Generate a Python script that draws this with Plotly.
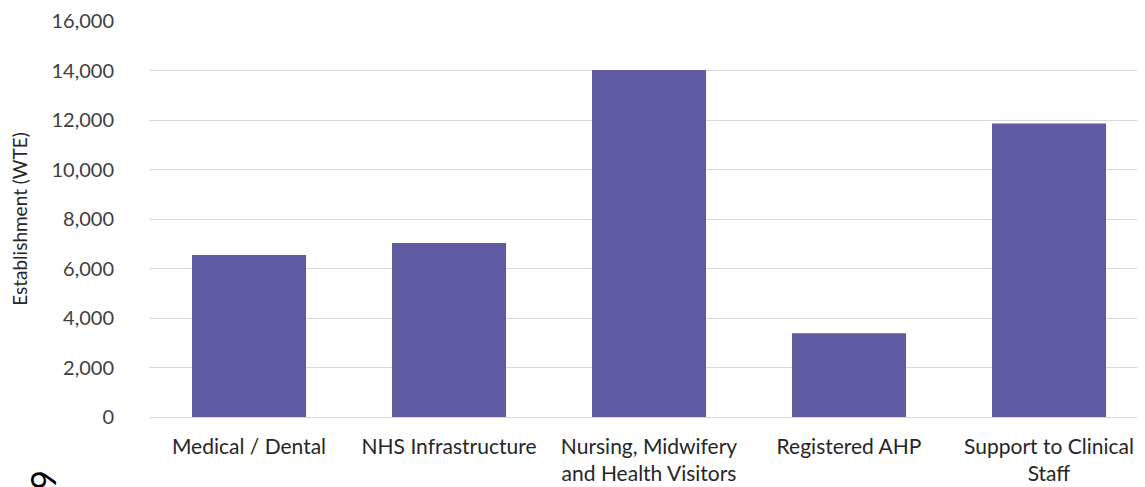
import plotly.graph_objects as go

categories = [
    "Medical / Dental",
    "NHS Infrastructure",
    "Nursing, Midwifery<br>and Health Visitors",
    "Registered AHP",
    "Support to Clinical<br>Staff",
]
establishment = [6550, 7030, 14020, 3380, 11860]
y_ticks = [0, 2000, 4000, 6000, 8000, 10000, 12000, 14000, 16000]

fig = go.Figure()

fig.add_trace(go.Bar(
    x=categories,
    y=establishment,
    marker=dict(color="#5F5AA2", line=dict(width=0)),
    width=0.57,
))

# the page body adds an 8px offset, so margins are trimmed to compensate
fig.update_layout(
    width=1145,
    height=487,
    margin=dict(l=141, r=8, t=13, b=78),
    paper_bgcolor="white",
    plot_bgcolor="white",
    showlegend=False,
    font=dict(family="Lato, Open Sans, sans-serif", size=20, color="#404040"),
    xaxis=dict(
        automargin=False,
        range=[-0.5, 4.48],
        showgrid=False,
        showline=False,
        ticks="",
        ticklabelstandoff=15,
        tickfont=dict(size=21, color="#262626"),
    ),
    yaxis=dict(
        automargin=False,
        range=[0, 16000],
        tickvals=y_ticks,
        tickformat=",",
        showgrid=True,
        gridcolor="#D9D9D9",
        gridwidth=1,
        zeroline=True,
        zerolinecolor="#D9D9D9",
        zerolinewidth=1,
        ticks="",
        ticklabelstandoff=34,
        tickfont=dict(size=20, color="#404040"),
        title=dict(text="Establishment (WTE)", font=dict(size=19, color="#262626"), standoff=27),
    ),
)

# stray page number in the corner of the source image
fig.add_annotation(
    text="9", x=0.0, y=-0.19, xref="paper", yref="paper",
    xshift=-129, showarrow=False, textangle=-90,
    font=dict(size=34, color="#000000"),
)

fig.write_html("out.html")
